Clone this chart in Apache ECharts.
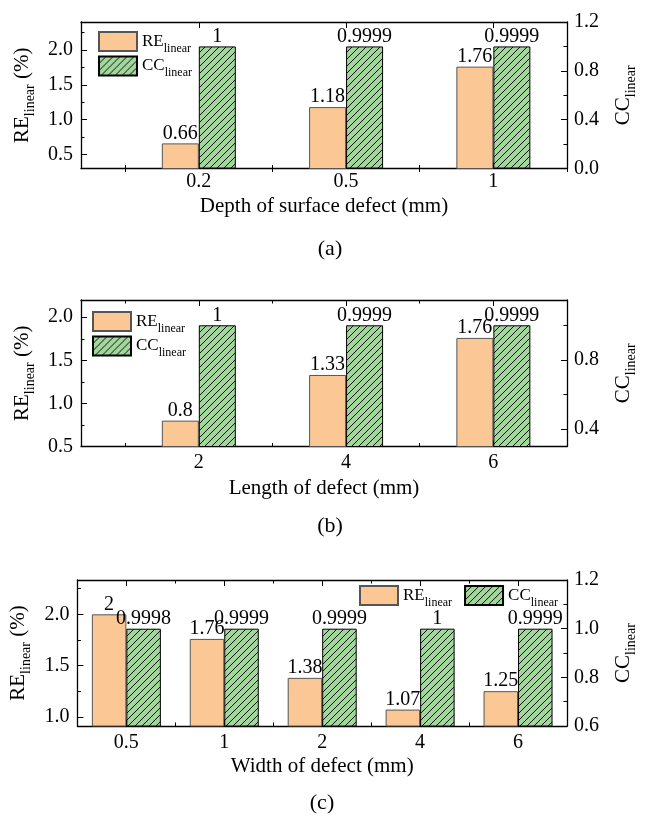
<!DOCTYPE html>
<html>
<head>
<meta charset="utf-8">
<script src="https://cdn.jsdelivr.net/npm/echarts@6/dist/echarts.min.js"></script>
<style>
  html, body { margin: 0; padding: 0; background: #fff; }
  #chart { width: 646px; height: 818px; }
</style>
</head>
<body>
<div id="chart"></div>
<script>
// Panel (a): depth of surface defect
const depthCategories = ['0.2', '0.5', '1'];
const depthRE = [0.66, 1.18, 1.76];
const depthCC = [1, 0.9999, 0.9999];

// Panel (b): length of defect
const lengthCategories = ['2', '4', '6'];
const lengthRE = [0.8, 1.33, 1.76];
const lengthCC = [1, 0.9999, 0.9999];

// Panel (c): width of defect
const widthCategories = ['0.5', '1', '2', '4', '6'];
const widthRE = [2, 1.76, 1.38, 1.07, 1.25];
const widthCC = [0.9998, 0.9999, 0.9999, 1, 0.9999];

// Tick labels on the value axes
const reTicksA = [0.5, 1.0, 1.5, 2.0];
const ccTicksA = [0.0, 0.4, 0.8, 1.2];
const reTicksB = [0.5, 1.0, 1.5, 2.0];
const ccTicksB = [0.4, 0.8];
const reTicksC = [1.0, 1.5, 2.0];
const ccTicksC = [0.6, 0.8, 1.0, 1.2];

const FONT = '"Liberation Serif", "Times New Roman", serif';
const RE_FILL = '#fbc895';
const CC_FILL = '#a2d79c';

// Hatched fill ("/") for the CC bars
function hatch() {
  const s = 7;
  const c = document.createElement('canvas');
  c.width = s; c.height = s;
  const g = c.getContext('2d');
  g.fillStyle = CC_FILL;
  g.fillRect(0, 0, s, s);
  g.strokeStyle = '#111';
  g.lineWidth = 1;
  g.beginPath();
  g.moveTo(-1, s + 1); g.lineTo(s + 1, -1);
  g.moveTo(-1, 1); g.lineTo(1, -1);
  g.moveTo(s - 1, s + 1); g.lineTo(s + 1, s - 1);
  g.stroke();
  return { image: c, repeat: 'repeat' };
}
const hatchFill = hatch();

// midpoints between neighbouring ticks, plus half steps beyond the ends that fall inside [lo, hi]
function minors(ticks, lo, hi) {
  const step = ticks.length > 1 ? ticks[1] - ticks[0] : 0.4;
  const out = [];
  for (let v = ticks[0] - step / 2; v <= hi + 1e-9; v += step) {
    if (v >= lo - 1e-9) out.push(+v.toFixed(4));
  }
  return out;
}

const richName = {
  m: { fontSize: 21, fontFamily: FONT, color: '#000', lineHeight: 22 },
  s: { fontSize: 14, fontFamily: FONT, color: '#000', verticalAlign: 'bottom', lineHeight: 14, padding: [0, 0, -4, 0] }
};
const richLegend = {
  m: { fontSize: 17, fontFamily: FONT, color: '#000', lineHeight: 18 },
  s: { fontSize: 12, fontFamily: FONT, color: '#000', verticalAlign: 'bottom', lineHeight: 12, padding: [0, 0, -4, 0] }
};

const option = {
  animation: false,
  backgroundColor: '#fff',
  grid: [], xAxis: [], yAxis: [], series: [], legend: [], graphic: []
};

function addPanel(p) {
  const gi = option.grid.length;
  option.grid.push({ left: p.left, top: p.top, width: p.width, height: p.height, containLabel: false });

  const xb = option.xAxis.length;
  const axisLine = { show: true, onZero: false, lineStyle: { color: '#000', width: 1.3 } };
  const tickMajor = { show: true, inside: true, length: 6, lineStyle: { color: '#000', width: 1 } };
  const xMajor = p.cats.map((_, i) => i + 1);
  const xMinor = minors(xMajor, p.xMin, p.xMax);

  option.xAxis.push({
    type: 'value', gridIndex: gi, position: 'bottom', min: p.xMin, max: p.xMax,
    axisLine,
    axisTick: Object.assign({}, tickMajor, { customValues: xMajor }),
    axisLabel: {
      customValues: xMajor, margin: p.xLabelMargin, fontSize: 20, fontFamily: FONT, color: '#000',
      formatter: v => p.cats[Math.round(v) - 1]
    },
    splitLine: { show: false },
    name: p.xName, nameLocation: 'middle', nameGap: p.xNameGap,
    nameTextStyle: { fontSize: 21, fontFamily: FONT, color: '#000' }
  });
  option.xAxis.push({
    type: 'value', gridIndex: gi, position: 'top', min: p.xMin, max: p.xMax,
    axisLine,
    axisTick: Object.assign({}, tickMajor, { customValues: xMajor }),
    axisLabel: { show: false }, splitLine: { show: false }
  });
  option.xAxis.push({
    type: 'value', gridIndex: gi, position: 'bottom', min: p.xMin, max: p.xMax,
    axisLine: { show: false },
    axisTick: { show: true, inside: true, length: 3.5, customValues: xMinor, lineStyle: { color: '#000' } },
    axisLabel: { show: false }, splitLine: { show: false }
  });
  option.xAxis.push({
    type: 'value', gridIndex: gi, position: 'top', min: p.xMin, max: p.xMax,
    axisLine: { show: false },
    axisTick: { show: true, inside: true, length: 3.5, customValues: xMinor, lineStyle: { color: '#000' } },
    axisLabel: { show: false }, splitLine: { show: false }
  });

  const yb = option.yAxis.length;
  option.yAxis.push({
    type: 'value', gridIndex: gi, position: 'left', min: p.reMin, max: p.reMax,
    axisLine,
    axisTick: Object.assign({}, tickMajor, { customValues: p.reTicks }),
    axisLabel: {
      customValues: p.reTicks, margin: 8, fontSize: 20, fontFamily: FONT, color: '#000',
      formatter: v => v.toFixed(1)
    },
    splitLine: { show: false },
    name: '{m|RE}{s|linear}{m| (%)}', nameLocation: 'middle', nameRotate: 90, nameGap: p.reNameGap,
    nameTextStyle: { rich: richName }
  });
  option.yAxis.push({
    type: 'value', gridIndex: gi, position: 'left', min: p.reMin, max: p.reMax,
    axisLine: { show: false },
    axisTick: { show: true, inside: true, length: 3.5, customValues: minors(p.reTicks, p.reMin, p.reMax), lineStyle: { color: '#000' } },
    axisLabel: { show: false }, splitLine: { show: false }
  });
  option.yAxis.push({
    type: 'value', gridIndex: gi, position: 'right', min: p.ccMin, max: p.ccMax,
    axisLine,
    axisTick: Object.assign({}, tickMajor, { customValues: p.ccTicks }),
    axisLabel: {
      customValues: p.ccTicks, margin: 7, fontSize: 20, fontFamily: FONT, color: '#000',
      formatter: v => v.toFixed(1)
    },
    splitLine: { show: false },
    name: '{m|CC}{s|linear}', nameLocation: 'middle', nameRotate: 90, nameGap: p.ccNameGap,
    nameTextStyle: { rich: richName }
  });
  option.yAxis.push({
    type: 'value', gridIndex: gi, position: 'right', min: p.ccMin, max: p.ccMax,
    axisLine: { show: false },
    axisTick: { show: true, inside: true, length: 3.5, customValues: minors(p.ccTicks, p.ccMin, p.ccMax), lineStyle: { color: '#000' } },
    axisLabel: { show: false }, splitLine: { show: false }
  });

  const label = {
    show: true, position: 'top', distance: 0, fontSize: 20, fontFamily: FONT, color: '#000',
    formatter: d => String(d.value[1])
  };
  option.series.push({
    type: 'bar', name: 'RE', xAxisIndex: xb, yAxisIndex: yb,
    barWidth: p.barWidth, barGap: '0%',
    data: p.re.map((v, i) => [i + 1, v]),
    itemStyle: { color: RE_FILL, borderColor: '#555', borderWidth: 1 },
    label, z: 2
  });
  option.series.push({
    type: 'bar', name: 'CC', xAxisIndex: xb, yAxisIndex: yb + 2,
    barWidth: p.barWidth, barGap: '0%',
    data: p.cc.map((v, i) => [i + 1, v]),
    itemStyle: { color: hatchFill, borderColor: '#000', borderWidth: 1 },
    label, z: 2
  });

  option.legend.push(Object.assign({
    data: ['RE', 'CC'], padding: 0,
    itemWidth: 38, itemHeight: 19, icon: 'rect',
    formatter: n => '{m|' + n + '}{s|linear}',
    textStyle: { rich: richLegend }
  }, p.legend));

  option.graphic.push({
    type: 'text', x: p.capX, y: p.capY,
    style: { text: p.caption, font: '22px ' + FONT, fill: '#000', textAlign: 'center', textVerticalAlign: 'middle' }
  });
}

addPanel({
  left: 81, top: 22, width: 493, height: 146.5,
  cats: depthCategories, re: depthRE, cc: depthCC,
  xMin: 0.2, xMax: 3.5, barWidth: 37,
  reMin: 0.3, reMax: 2.4, reTicks: reTicksA,
  ccMin: 0, ccMax: 1.2, ccTicks: ccTicksA,
  xName: 'Depth of surface defect (mm)', xNameGap: 27, xLabelMargin: 3,
  reNameGap: 40, ccNameGap: 45,
  legend: { orient: 'vertical', left: 98, top: 31, itemGap: 1 },
  caption: '(a)', capX: 330, capY: 249
});

addPanel({
  left: 81, top: 300, width: 492.5, height: 146.5,
  cats: lengthCategories, re: lengthRE, cc: lengthCC,
  xMin: 0.2, xMax: 3.5, barWidth: 37,
  reMin: 0.5, reMax: 2.2, reTicks: reTicksB,
  ccMin: 0.3, ccMax: 1.146, ccTicks: ccTicksB,
  xName: 'Length of defect (mm)', xNameGap: 31, xLabelMargin: 6,
  reNameGap: 40, ccNameGap: 45,
  legend: { orient: 'vertical', left: 92, top: 311, itemGap: 1 },
  caption: '(b)', capX: 330, capY: 526
});

addPanel({
  left: 75, top: 580, width: 493.5, height: 146,
  cats: widthCategories, re: widthRE, cc: widthCC,
  xMin: 0.5, xMax: 5.5, barWidth: 34.5,
  reMin: 0.91, reMax: 2.335, reTicks: reTicksC,
  ccMin: 0.6, ccMax: 1.2, ccTicks: ccTicksC,
  xName: 'Width of defect (mm)', xNameGap: 30, xLabelMargin: 7,
  reNameGap: 40, ccNameGap: 45,
  legend: { orient: 'horizontal', left: 359, top: 585, itemGap: 12 },
  caption: '(c)', capX: 322, capY: 803
});

const chart = echarts.init(document.getElementById('chart'), null, { renderer: 'canvas' });
chart.setOption(option);
</script>
</body>
</html>
